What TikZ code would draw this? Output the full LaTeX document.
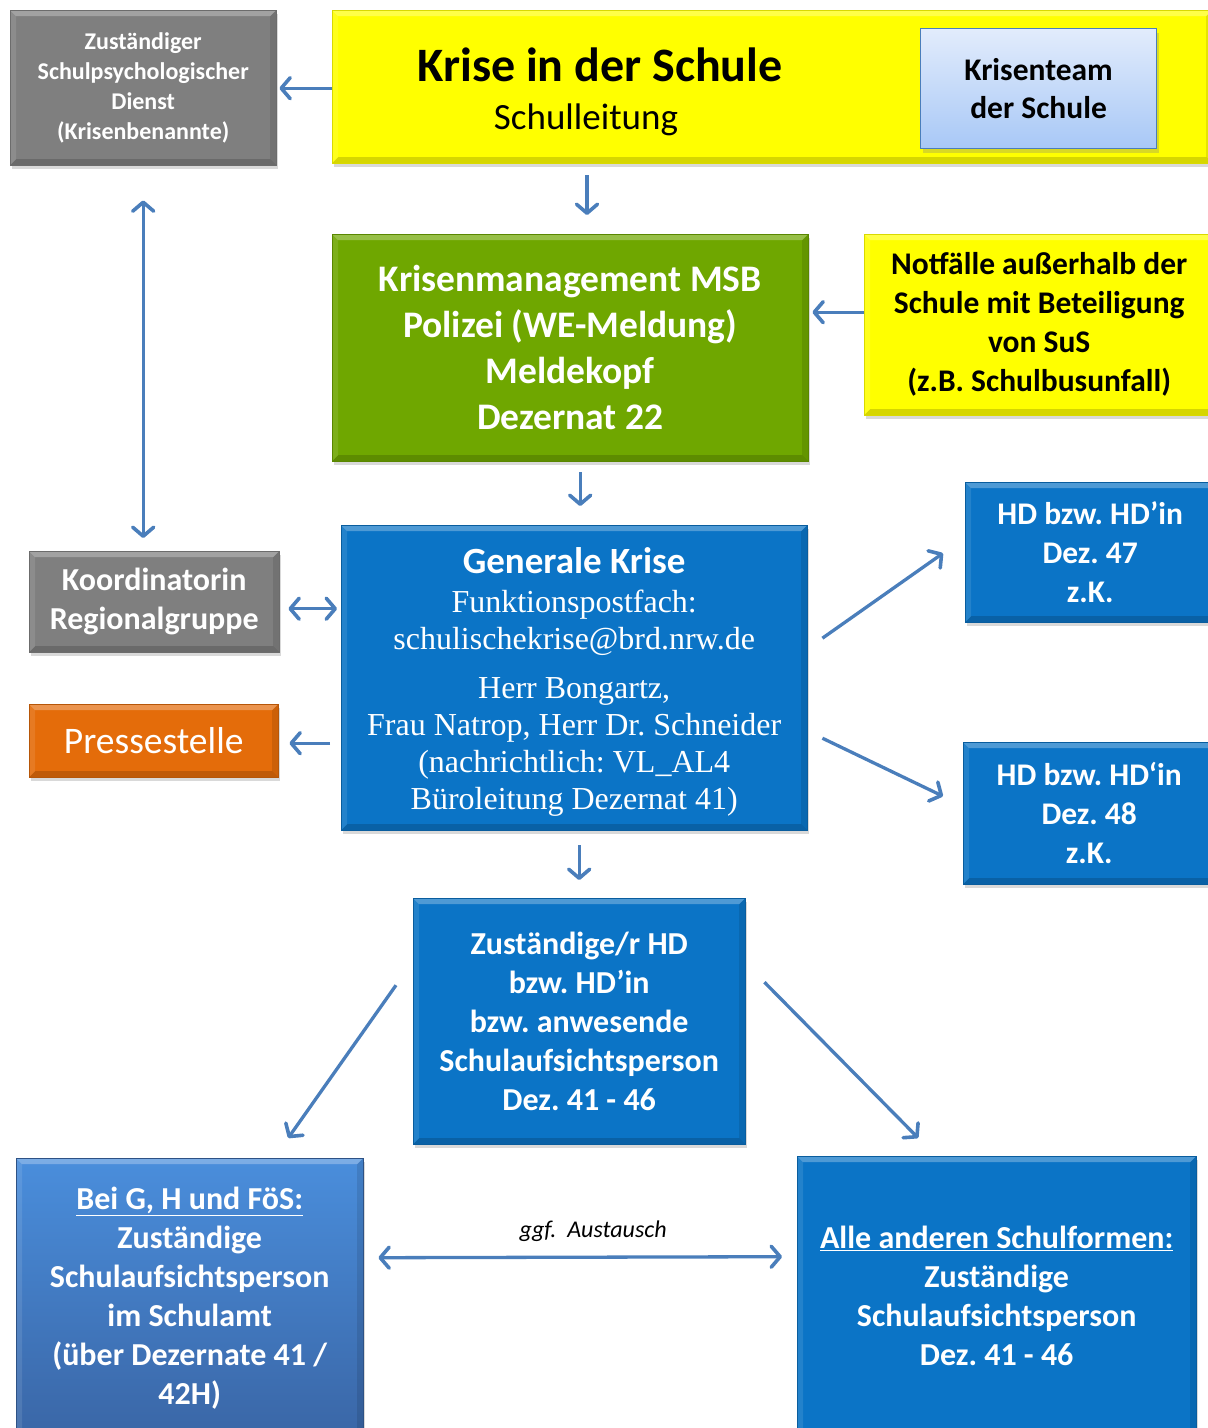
\documentclass[tikz,border=0pt]{standalone}
\usepackage{fontspec}
\setmainfont{Carlito}
\newfontfamily\serifTNR{Liberation Serif}
\usetikzlibrary{arrows.meta,shadows,calc}
\frenchspacing
\definecolor{arrc}{HTML}{4A7EBB}
\definecolor{grayb}{HTML}{7F7F7F}
\definecolor{yel}{HTML}{FFFF00}
\definecolor{grn}{HTML}{6FA700}
\definecolor{blu}{HTML}{0B74C6}
\definecolor{org}{HTML}{E46C0A}
\definecolor{bltop}{HTML}{4A8EDC}
\definecolor{blbot}{HTML}{3A66A6}
\definecolor{teamtop}{HTML}{E2ECFC}
\definecolor{teambot}{HTML}{A8C8F6}
\newcommand\fs[2]{\fontsize{#1}{#2}\selectfont}
\tikzset{
  x=1pt,y=-1pt,
  bevel/.style={path picture={
    \path (path picture bounding box.north west) coordinate (pA)
          (path picture bounding box.north east) coordinate (pB)
          (path picture bounding box.south east) coordinate (pC)
          (path picture bounding box.south west) coordinate (pD);
    \fill[white,opacity=.28] (pA) -- (pB) -- ([shift={(-6pt,-6pt)}]pB) -- ([shift={(6pt,-6pt)}]pA) -- cycle;
    \fill[white,opacity=.10] (pA) -- ([shift={(6pt,-6pt)}]pA) -- ([shift={(6pt,6pt)}]pD) -- (pD) -- cycle;
    \fill[black,opacity=.10] (pB) -- ([shift={(-6pt,-6pt)}]pB) -- ([shift={(-6pt,6pt)}]pC) -- (pC) -- cycle;
    \fill[black,opacity=.16] (pD) -- ([shift={(6pt,6pt)}]pD) -- ([shift={(-6pt,6pt)}]pC) -- (pC) -- cycle;
  }},
  box/.style={anchor=north west, inner sep=0pt, align=center, bevel,
    drop shadow={shadow xshift=2pt, shadow yshift=-4pt, opacity=.3}},
  tipA/.tip={Straight Barb[length=9pt,width=21pt,line width=3.6pt,round]},
  arr/.style={draw=arrc, line width=3.3pt, -tipA},
  arr2/.style={draw=arrc, line width=3.3pt, tipA-tipA},
}
\begin{document}
\begin{tikzpicture}
\useasboundingbox (0,0) rectangle (1208,1428);
% top row
\node[box, fill=grayb, draw=grayb!85!black, minimum width=266pt, minimum height=155pt, text=white, font=\bfseries\fs{24}{30}] (sps) at (10,10)
  {Zuständiger\\Schulpsychologischer\\Dienst\\(Krisenbenannte)};
\node[box, fill=yel, draw=yel!85!black, minimum width=880pt, minimum height=153pt] (top) at (332,10) {};
\node[inner sep=0pt] (toptxt) at (600,92)
  {\begin{minipage}{500pt}\centering
   {\bfseries\fs{48}{56}Krise in der Schule\par}
   \vspace{-2pt}
   {\fs{37}{50}\hspace*{-28pt}Schulleitung\par}
   \end{minipage}};
\node[box, top color=teamtop, bottom color=teambot, draw=arrc, line width=1.2pt, minimum width=236pt, minimum height=120pt, font=\bfseries\fs{31.5}{38}, path picture={}] (team) at (920,28)
  {Krisenteam\\der Schule};
% second row
\node[box, fill=grn, draw=grn!80!black, minimum width=476pt, minimum height=227pt, text=white, font=\bfseries\fs{37.5}{46}] (green) at (332,234)
  {Krisenmanagement MSB\\Polizei (WE-Meldung)\\Meldekopf\\Dezernat 22};
\node[box, fill=yel, draw=yel!85!black, minimum width=350pt, minimum height=181pt, font=\bfseries\fs{31.5}{39}] (notf) at (864,234)
  {Notfälle außerhalb der\\Schule mit Beteiligung\\von SuS\\(z.B. Schulbusunfall)};
% third row
\node[box, fill=blu, draw=blu!80!black, minimum width=466pt, minimum height=305pt, text=white] (gen) at (341,525)
  {\begin{minipage}{460pt}\centering
   \vspace*{8pt}
   {\bfseries\fs{37}{40}Generale Krise\par}
   \vspace{2pt}
   {\serifTNR\fs{32}{37}Funktionspostfach:\\schulischekrise@brd.nrw.de\par}
   \vspace{12pt}
   {\serifTNR\fs{32}{37}Herr Bongartz,\\Frau Natrop, Herr Dr. Schneider\\(nachrichtlich: VL\_AL4\\Büroleitung Dezernat 41)\par}
   \end{minipage}};
\node[box, fill=grayb, draw=grayb!85!black, minimum width=250pt, minimum height=101pt, text=white, font=\bfseries\fs{32}{39}] (koord) at (29,551)
  {Koordinatorin\\Regionalgruppe};
\node[box, fill=org, draw=org!80!black, minimum width=249pt, minimum height=73pt, text=white, font=\fs{37.5}{42}] (presse) at (29,704)
  {Pressestelle};
\node[box, fill=blu, draw=blu!80!black, minimum width=250pt, minimum height=140pt, text=white, font=\bfseries\fs{31.5}{39}] (hd47) at (965,482)
  {HD bzw. HD’in\\Dez. 47\\z.K.};
\node[box, fill=blu, draw=blu!80!black, minimum width=252pt, minimum height=142pt, text=white, font=\bfseries\fs{31.5}{39}] (hd48) at (963,742)
  {HD bzw. HD‘in\\Dez. 48\\z.K.};
% fourth row
\node[box, fill=blu, draw=blu!80!black, minimum width=332pt, minimum height=246pt, text=white, font=\bfseries\fs{32}{39}] (zust) at (413,898)
  {Zuständige/r HD\\bzw. HD’in\\bzw. anwesende\\Schulaufsichtsperson\\Dez. 41 - 46};
\node[box, top color=bltop, bottom color=blbot, draw=blbot!80!black, minimum width=347pt, minimum height=280pt, text=white, font=\bfseries\fs{32}{39}] (bl) at (16,1158)
  {\underline{Bei G, H und FöS:}\\Zuständige\\Schulaufsichtsperson\\im Schulamt\\(über Dezernate 41 /\\42H)};
\node[box, fill=blu, draw=blu!80!black, minimum width=399pt, minimum height=280pt, text=white, font=\bfseries\fs{32}{39}] (br) at (797,1156)
  {\underline{Alle anderen Schulformen:}\\Zuständige\\Schulaufsichtsperson\\Dez. 41 - 46};
% connectors
\draw[arr] ([yshift=-0.5pt]sps.east -| top.west) -- ([xshift=3pt,yshift=-0.5pt]sps.east);
\draw[arr] ([xshift=-13pt,yshift=-12pt]top.south -| toptxt) -- ([xshift=-13pt,yshift=19pt]green.north -| toptxt);
\draw[arr] ([yshift=12.5pt]notf.west) -- ([yshift=12.5pt,xshift=4pt]notf.west -| green.east);
\draw[arr] ([xshift=10pt,yshift=-11pt]green.south) -- ([xshift=10pt,yshift=19pt]green.south |- gen.north);
\draw[arr2] ([yshift=-35pt]sps.south) -- ([yshift=13pt]sps.south |- koord.north);
\draw[arr2] ([xshift=9pt,yshift=-7pt]koord.east) -- ([xshift=-4pt,yshift=-7pt]koord.east -| gen.west);
\draw[arr] ([xshift=-11pt,yshift=-2.5pt]presse.east -| gen.west) -- ([xshift=11pt,yshift=-2.5pt]presse.east);
\draw[arr] ([shift={(15pt,39.5pt)}]gen.east) -- ([shift={(-22pt,-1pt)}]hd47.west);
\draw[arr] ([shift={(15pt,-60.5pt)}]gen.east) -- ([shift={(-20pt,17pt)}]hd48.west);
\draw[arr] ([yshift=-15pt]gen.south -| zust.north) -- ([yshift=18pt]zust.north);
\draw[arr] ([shift={(-17pt,36pt)}]zust.west) -- ([shift={(98.5pt,20pt)}]bl.north);
\draw[arr] ([shift={(19pt,39pt)}]zust.east) -- ([shift={(-78.5pt,18pt)}]br.north);
\draw[arr2] ([shift={(15pt,40.5pt)}]bl.east) -- node[above=11pt, xshift=13pt, text=black, font=\itshape\fs{24}{28}] (ggf) {ggf.\ \ Austausch} ([shift={(-15pt,39.5pt)}]br.west);
\end{tikzpicture}
\end{document}
